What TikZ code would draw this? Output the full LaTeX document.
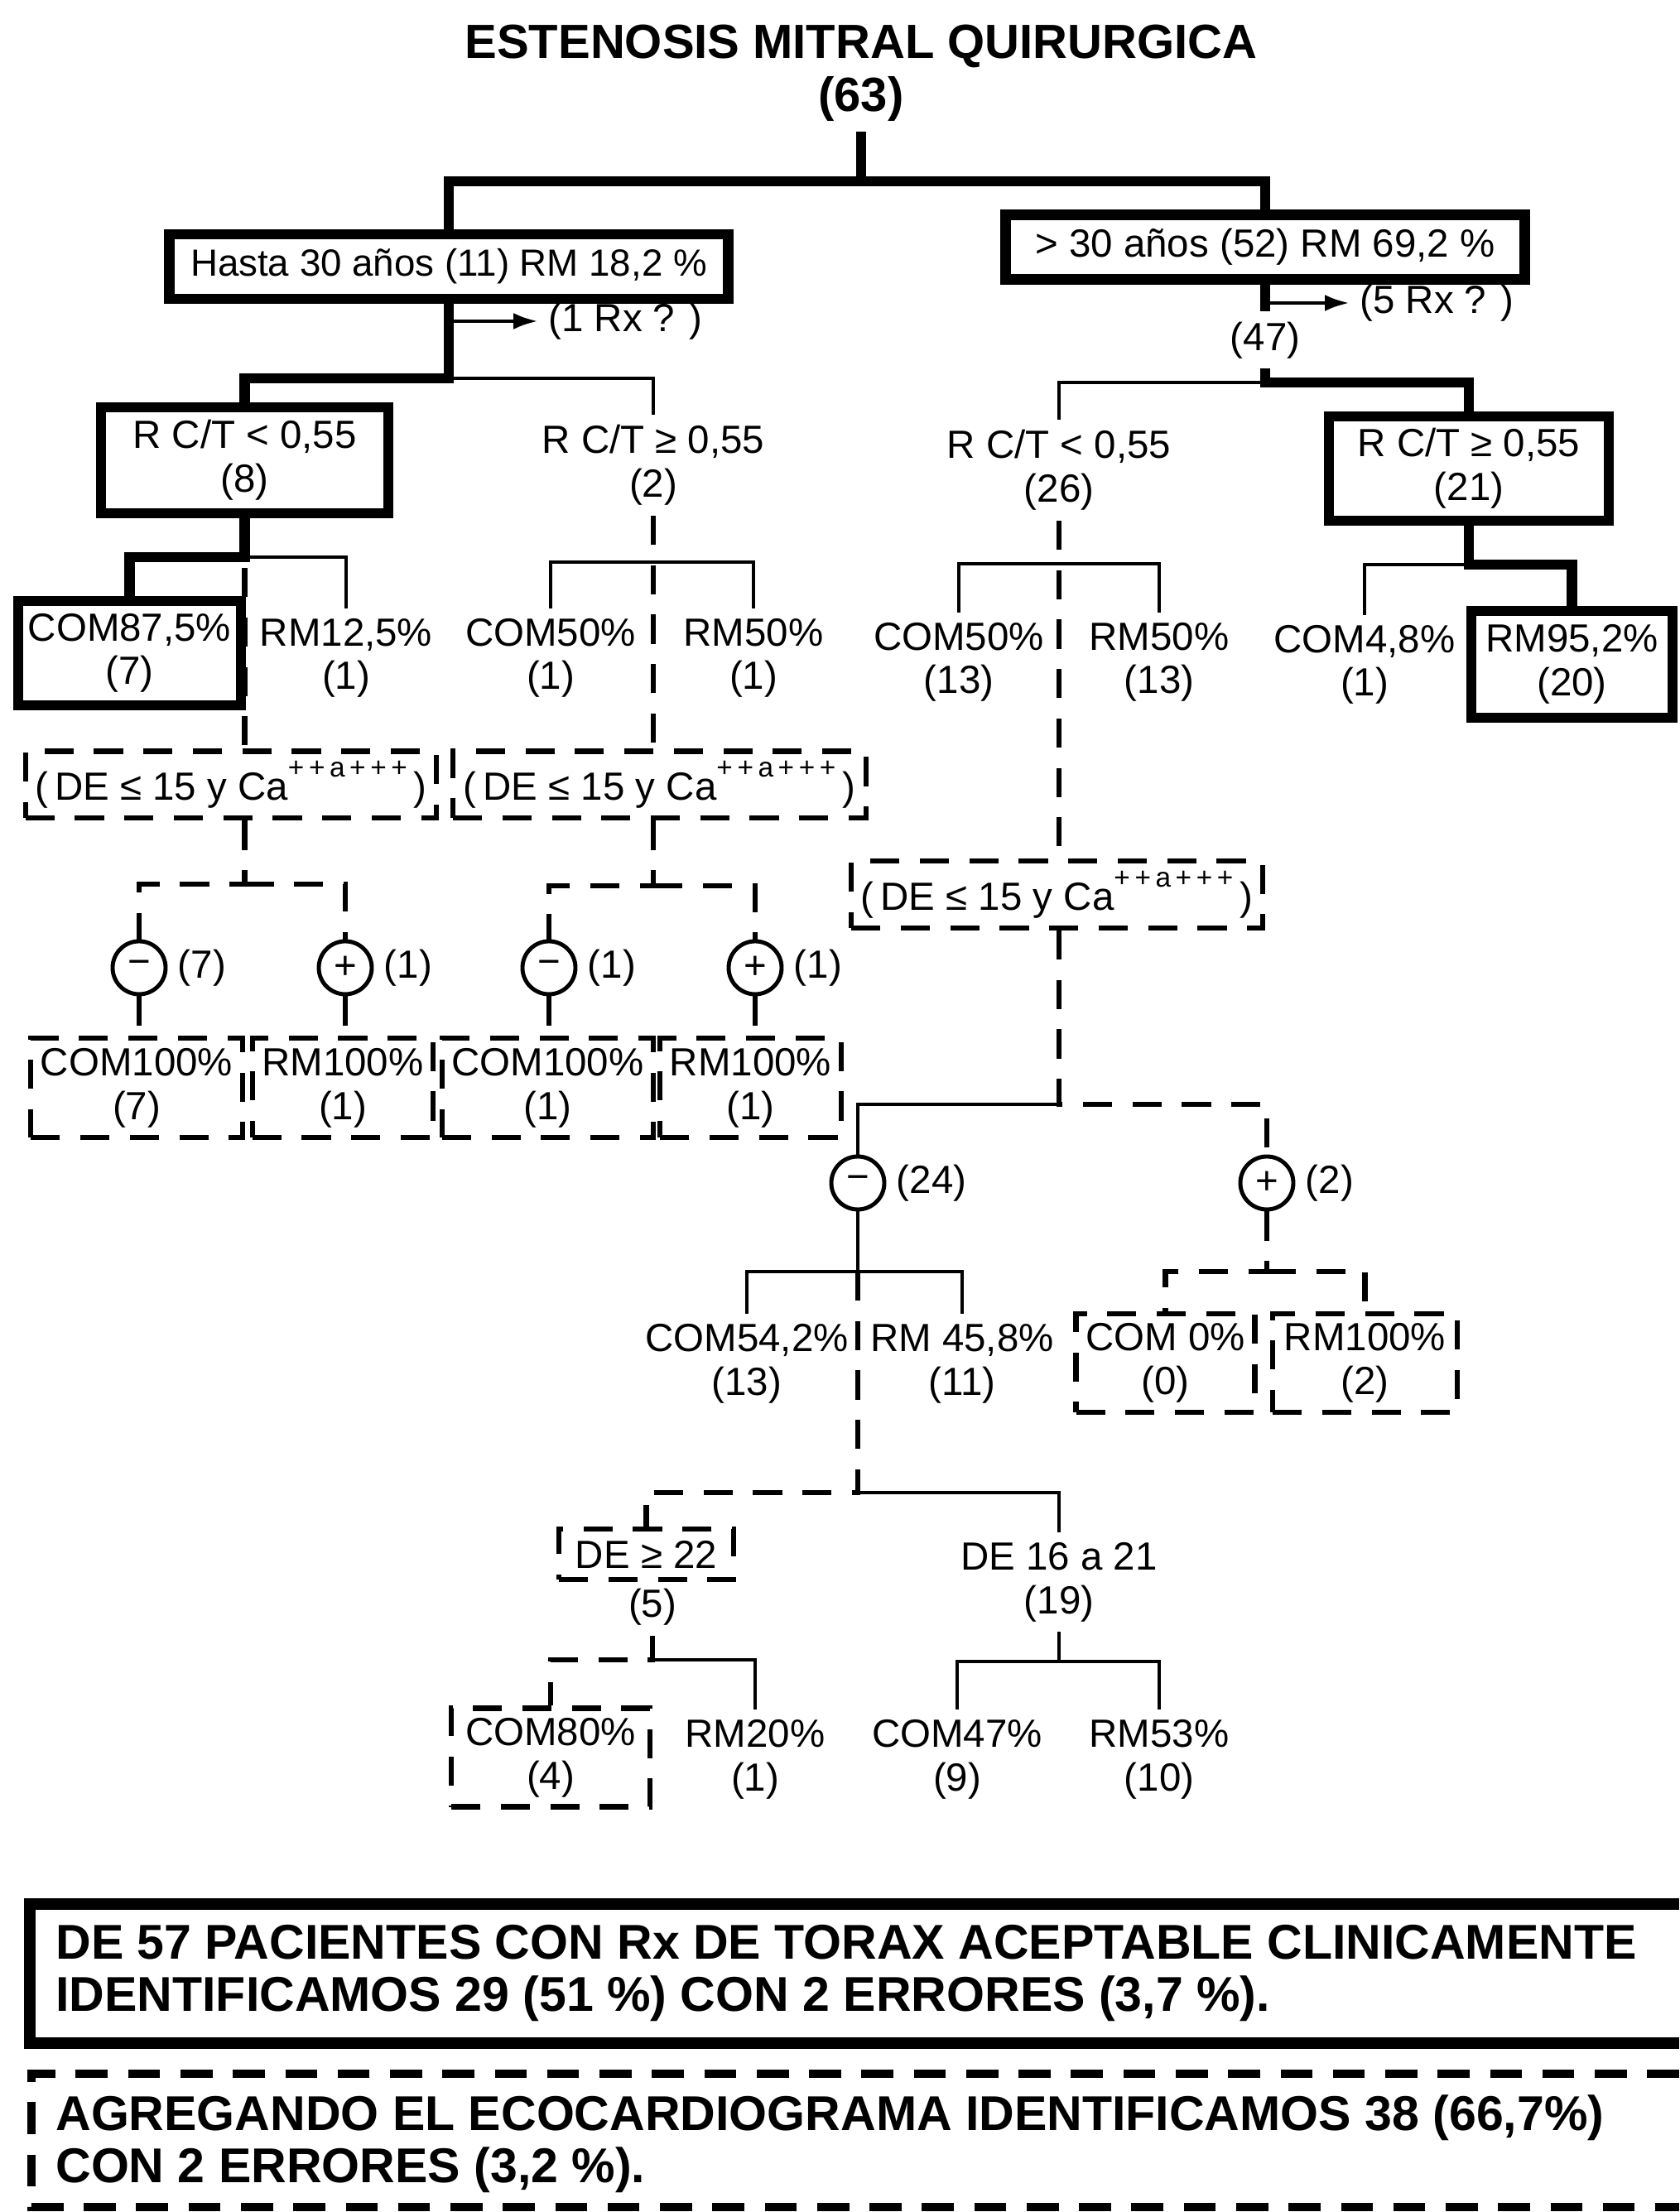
\documentclass[tikz,border=0pt]{standalone}
\usepackage{fontspec}
\setmainfont{Liberation Sans}
\usetikzlibrary{arrows.meta,positioning}
\newcommand{\treefont}{\fontsize{13.5}{15}\selectfont}
\newcommand{\titfont}{\bfseries\fontsize{16.5}{18}\selectfont}
\newcommand{\notefont}{\bfseries\fontsize{16.8}{18}\selectfont}
\newcommand{\caexp}[1]{\raisebox{8pt}{\fontsize{9.5}{9.5}\selectfont #1}}

\begin{document}
\begin{tikzpicture}[
	lbl/.style={font=\treefont, align=center},
	thkbox/.style={lbl, draw, line width=3.6pt},
	dshbox/.style={lbl, draw, line width=1.8pt, dash pattern=on 10pt off 7pt},
	sign/.style={draw, circle, line width=1.4pt, minimum size=0.64cm, inner sep=0pt, font=\treefont},
	thk/.style={line width=3.6pt},
	thn/.style={line width=1.4pt},
	dsh/.style={line width=1.8pt, dash pattern=on 10pt off 7pt},
	note/.style={font=\notefont, align=left, anchor=west},
	rxarrow/.style={thn, -{Latex[length=0.3cm,width=0.2cm]}}
	]
	\useasboundingbox (0,0) rectangle (20.28,26.72);

	% title
	\node[font=\titfont] (tit) at (10.40,26.16) {ESTENOSIS MITRAL QUIRURGICA};
	\node[font=\titfont] (n63) at (10.40,25.52) {(63)};

	% edad
	\node[thkbox, font=\fontsize{13}{15}\selectfont, minimum width=6.75cm, minimum height=0.78cm] (hasta) at (5.42,23.50) {Hasta 30 años (11) RM 18,2 \%};
	\node[thkbox, minimum width=6.27cm, minimum height=0.78cm] (mayor) at (15.28,23.735) {> 30 años (52) RM 69,2 \%};
	\node[lbl, anchor=west] (rx1) at (6.50,22.84) {(1 Rx ? )};
	\node[lbl, anchor=west] (rx2) at (16.30,23.06) {(5 Rx ? )};
	\node[lbl] (n47) at (15.28,22.61) {(47)};

	% R C/T
	\node[thkbox, minimum width=3.47cm, minimum height=1.28cm] (b8) at (2.955,21.16) {R C/T < 0,55\\(8)};
	\node[lbl] (n2) at (7.89,21.10) {R C/T ≥ 0,55\\(2)};
	\node[lbl] (n26) at (12.79,21.04) {R C/T < 0,55\\(26)};
	\node[thkbox, minimum width=3.38cm, minimum height=1.26cm] (b21) at (17.74,21.06) {R C/T ≥ 0,55\\(21)};

	% COM / RM
	\node[thkbox, minimum width=2.65cm, minimum height=1.26cm] (c87) at (1.565,18.83) {COM87,5\%\\(7)};
	\node[lbl] (r125) at (4.18,18.77) {RM12,5\%\\(1)};
	\node[lbl] (c50a) at (6.65,18.77) {COM50\%\\(1)};
	\node[lbl] (r50a) at (9.10,18.77) {RM50\%\\(1)};
	\node[lbl] (c50b) at (11.58,18.72) {COM50\%\\(13)};
	\node[lbl] (r50b) at (14.00,18.72) {RM50\%\\(13)};
	\node[lbl] (c48) at (16.48,18.69) {COM4,8\%\\(1)};
	\node[thkbox, minimum width=2.43cm, minimum height=1.29cm] (r952) at (18.985,18.695) {RM95,2\%\\(20)};

	% eco
	\node[dshbox, minimum width=4.88cm, minimum height=0.76cm] (db1) at (2.79,17.24) {(\,DE ≤ 15 y Ca\caexp{+\,+\,a\,+\,+\,+}\,)};
	\node[dshbox, minimum width=4.99cm, minimum height=0.76cm] (db2) at (7.965,17.24) {(\,DE ≤ 15 y Ca\caexp{+\,+\,a\,+\,+\,+}\,)};
	\node[dshbox, minimum width=4.83cm, minimum height=0.79cm] (db3) at (12.765,15.915) {(\,DE ≤ 15 y Ca\caexp{+\,+\,a\,+\,+\,+}\,)};

	% signs
	\node[sign] (m1) at (1.68,15.03) {−};
	\node[sign] (p1) at (4.17,15.03) {+};
	\node[sign] (m2) at (6.63,15.03) {−};
	\node[sign] (p2) at (9.12,15.03) {+};
	\node[lbl, right=0pt of m1] (m1n) {(7)};
	\node[lbl, right=0pt of p1] (p1n) {(1)};
	\node[lbl, right=0pt of m2] (m2n) {(1)};
	\node[lbl, right=0pt of p2] (p2n) {(1)};
	\node[sign] (m3) at (10.36,12.43) {−};
	\node[sign] (p3) at (15.30,12.43) {+};
	\node[lbl, right=0pt of m3] (m3n) {(24)};
	\node[lbl, right=0pt of p3] (p3n) {(2)};

	% 100%
	\node[dshbox, minimum width=2.46cm, minimum height=1.20cm] (bA) at (1.65,13.58) {COM100\%\\(7)};
	\node[dshbox, minimum width=2.12cm, minimum height=1.20cm] (bB) at (4.14,13.58) {RM100\%\\(1)};
	\node[dshbox, minimum width=2.43cm, minimum height=1.20cm] (bC) at (6.615,13.58) {COM100\%\\(1)};
	\node[dshbox, minimum width=2.15cm, minimum height=1.20cm] (bD) at (9.065,13.58) {RM100\%\\(1)};

	% (24) / (2)
	\node[lbl] (c542) at (9.02,10.245) {COM54,2\%\\(13)};
	\node[lbl] (r458) at (11.62,10.245) {RM 45,8\%\\(11)};
	\node[dshbox, minimum width=2.09cm, minimum height=1.17cm] (c0) at (14.075,10.255) {COM 0\%\\(0)};
	\node[dshbox, minimum width=2.23cm, minimum height=1.17cm] (r100) at (16.485,10.255) {RM100\%\\(2)};

	% DE
	\node[dshbox, minimum width=2.11cm, minimum height=0.61cm] (de22) at (7.805,7.945) {DE ≥ 22};
	\node[lbl] (n5) at (7.88,7.31) {(5)};
	\node[lbl] (de1621) at (12.79,7.61) {DE 16 a 21\\(19)};
	\node[dshbox, minimum width=2.40cm, minimum height=1.18cm] (c80) at (6.65,5.49) {COM80\%\\(4)};
	\node[lbl] (r20) at (9.12,5.47) {RM20\%\\(1)};
	\node[lbl] (c47) at (11.56,5.47) {COM47\%\\(9)};
	\node[lbl] (r53) at (14.00,5.47) {RM53\%\\(10)};

	% junctions
	\coordinate (j0) at (10.40,24.53);
	\coordinate (a1) at (5.42,22.84);
	\coordinate (j1) at (5.42,22.15);
	\coordinate (a2) at (15.28,23.06);
	\coordinate (j6) at (15.28,22.10);
	\coordinate (j2) at (2.955,19.99);
	\coordinate (j3) at (7.89,19.93);
	\coordinate (j7) at (12.79,19.91);
	\coordinate (j8) at (17.74,19.90);
	\coordinate (j4) at (2.955,16.04);
	\coordinate (j5) at (7.89,16.02);
	\coordinate (j9) at (12.79,13.38);
	\coordinate (j10) at (10.36,11.36);
	\coordinate (j11) at (15.30,11.36);
	\coordinate (j12) at (10.36,8.69);
	\coordinate (j13) at (7.88,6.67);
	\coordinate (j14) at (12.79,6.65);

	% thick
	\draw[thk] (n63.south) -- (j0) -| (hasta.north);
	\draw[thk] (j0) -| (mayor.north);
	\draw[thk] (hasta.south) -- (j1) -| (b8.north);
	\draw[thk] (mayor.south) -- (n47.north);
	\draw[thk] (n47.south) -- (j6) -| (b21.north);
	\draw[thk] (b8.south) -- (j2) -| (c87.north);
	\draw[thk] (b21.south) -- (j8) -| (r952.north);

	% thin
	\draw[rxarrow] (a1) -- (rx1.west);
	\draw[rxarrow] (a2) -- (rx2.west);
	\draw[thn] (j1) -| (n2.north);
	\draw[thn] (j6) -| (n26.north);
	\draw[thn] (j2) -| (r125.north);
	\draw[thn] (j3) -| (c50a.north);
	\draw[thn] (j3) -| (r50a.north);
	\draw[thn] (j7) -| (c50b.north);
	\draw[thn] (j7) -| (r50b.north);
	\draw[thn] (j8) -| (c48.north);
	\draw[thn] (j9) -| (m3.north);
	\draw[thn] (m3.south) -- (j10) -| (c542.north);
	\draw[thn] (j10) -| (r458.north);
	\draw[thn] (j12) -| (de1621.north);
	\draw[thn] (j13) -| (r20.north);
	\draw[thn] (de1621.south) -- (j14) -| (c47.north);
	\draw[thn] (j14) -| (r53.north);

	% dashed
	\draw[dsh] (b8.south) -- (b8.south |- db1.north);
	\draw[dsh] (n2.south) -- (n2.south |- db2.north);
	\draw[dsh] (n26.south) -- (n26.south |- db3.north);
	\draw[dsh] (b8.south |- db1.south) -- (j4) -| (m1.north);
	\draw[dsh] (j4) -| (p1.north);
	\draw[dsh] (n2.south |- db2.south) -- (j5) -| (m2.north);
	\draw[dsh] (j5) -| (p2.north);
	\draw[dsh] (m1.south) -- (m1.south |- bA.north);
	\draw[dsh] (p1.south) -- (p1.south |- bB.north);
	\draw[dsh] (m2.south) -- (m2.south |- bC.north);
	\draw[dsh] (p2.south) -- (p2.south |- bD.north);
	\draw[dsh] (n26.south |- db3.south) -- (j9) -| (p3.north);
	\draw[dsh] (p3.south) -- (j11) -| (c0.north);
	\draw[dsh] (j11) -| (r100.north);
	\draw[dsh] (j10) -- (j12) -| (de22.north);
	\draw[dsh] (n5.south) -- (j13) -| (c80.north);

	% resumen
	\node[note] (txt1) at (0.55,2.885) {DE 57 PACIENTES CON Rx DE TORAX ACEPTABLE CLINICAMENTE\\IDENTIFICAMOS 29 (51 \%) CON 2 ERRORES (3,7 \%).};
	\node[note] (txt2) at (0.55,0.82) {AGREGANDO EL ECOCARDIOGRAMA IDENTIFICAMOS 38 (66,7\%)\\CON 2 ERRORES (3,2 \%).};
	\draw[line width=4pt] (20.28,3.72) -- (0.36,3.72) -- (0.36,2.04) -- (20.28,2.04);
	\draw[line width=2.6pt, dash pattern=on 11pt off 7pt] (20.28,1.67) -- (0.38,1.67) -- (0.38,0.06) -- (20.28,0.06);
\end{tikzpicture}
\end{document}
